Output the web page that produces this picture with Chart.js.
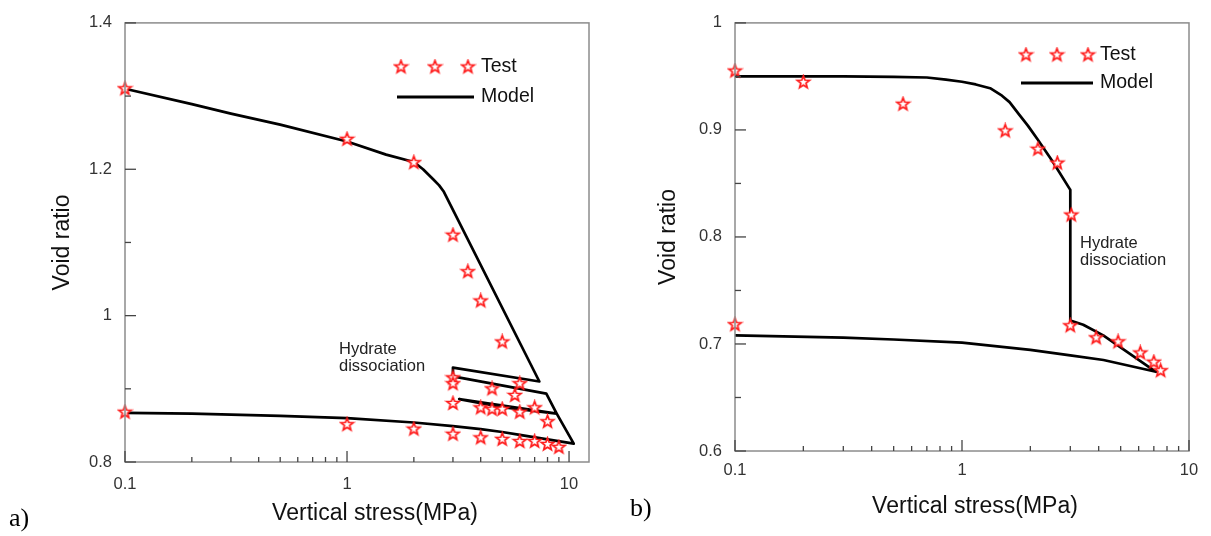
<!DOCTYPE html>
<html>
<head>
<meta charset="utf-8">
<script src="https://cdn.jsdelivr.net/npm/chart.js@4.4.1/dist/chart.umd.min.js"></script>
<style>
  html, body { margin: 0; padding: 0; background: #fff; }
  #wrap { position: relative; width: 1211px; height: 536px; overflow: hidden; }
  canvas { position: absolute; top: 0; }
  #chartA { left: 0; }
  #chartB { left: 605px; }
  .tag { position: absolute; font-family: "Liberation Serif", "Times New Roman", serif; font-size: 26px; color: #000; }
</style>
</head>
<body>
<div id="wrap">
  <canvas id="chartA" width="605" height="536"></canvas>
  <canvas id="chartB" width="606" height="536"></canvas>
  <div class="tag" style="left:9px; top:503px;">a)</div>
  <div class="tag" style="left:630px; top:493px;">b)</div>
</div>
<script>
// ---- panel a) ----
const aTestX = [0.1, 1, 2, 3, 3.5, 4, 5, 6, 3, 3, 4.5, 5.7, 3, 4, 4.5, 5, 6, 7, 8, 0.1, 1, 2, 3, 4, 5, 6, 7, 8, 9];
const aTestY = [1.310, 1.241, 1.209, 1.110, 1.060, 1.020, 0.964, 0.907, 0.915, 0.907, 0.900, 0.891, 0.880, 0.874, 0.872, 0.872, 0.868, 0.874, 0.855, 0.868, 0.851, 0.845, 0.838, 0.833, 0.831, 0.828, 0.828, 0.824, 0.820];
const aModelX = [0.1, 0.2, 0.3, 0.5, 1, 1.5, 2, 2.2, 2.45, 2.6, 2.72, 7.35, 3.0, 3.0, 7.9, 8.8, 3.2, 5, 8.8, 10.5, 8, 6, 5, 4, 3, 2, 1, 0.5, 0.2, 0.1];
const aModelY = [1.310, 1.289, 1.276, 1.261, 1.238, 1.220, 1.210, 1.200, 1.186, 1.178, 1.170, 0.910, 0.929, 0.917, 0.8935, 0.866, 0.886, 0.875, 0.866, 0.825, 0.831, 0.837, 0.841, 0.845, 0.849, 0.854, 0.860, 0.863, 0.866, 0.867];
const aYMajor = [0.8, 1.0, 1.2, 1.4];
const aYMinor = [0.9, 1.1, 1.3];

// ---- panel b) ----
const bTestX = [0.1, 0.2, 0.55, 1.55, 2.16, 2.63, 3.03, 3.0, 3.9, 4.87, 6.1, 7.0, 7.5, 0.1];
const bTestY = [0.955, 0.9445, 0.924, 0.899, 0.882, 0.869, 0.8205, 0.717, 0.7057, 0.702, 0.6916, 0.683, 0.675, 0.718];
const bModelX = [0.1, 0.3, 0.5, 0.7, 0.85, 1.0, 1.15, 1.33, 1.5, 1.62, 1.79, 1.95, 2.14, 2.5, 3.0, 3.0, 3.42, 4.19, 7.15, 4.2, 3.0, 2.0, 1.0, 0.5, 0.3, 0.1];
const bModelY = [0.950, 0.950, 0.9495, 0.949, 0.947, 0.945, 0.9425, 0.939, 0.932, 0.926, 0.914, 0.904, 0.892, 0.871, 0.844, 0.722, 0.718, 0.708, 0.674, 0.685, 0.6894, 0.6945, 0.7013, 0.7042, 0.706, 0.708];
const bYMajor = [0.6, 0.7, 0.8, 0.9, 1.0];
const bYMinor = [0.65, 0.75, 0.85, 0.95];

// shared log axis ticks
const xMajor = [0.1, 1, 10];
const xMinor = [0.2, 0.3, 0.4, 0.5, 0.6, 0.7, 0.8, 0.9, 2, 3, 4, 5, 6, 7, 8, 9];

Chart.defaults.font.family = '"Liberation Sans", Arial, sans-serif';

// hollow red star marker
function makeStar(r) {
    const c = document.createElement('canvas');
    const s = Math.ceil(r * 2 + 4);
    c.width = s; c.height = s;
    const g = c.getContext('2d');
    g.beginPath();
    for (let i = 0; i < 10; i++) {
        const rad = i % 2 ? r * 0.42 : r;
        const ang = -Math.PI / 2 + i * Math.PI / 5;
        g.lineTo(s / 2 + rad * Math.cos(ang), s / 2 + rad * Math.sin(ang));
    }
    g.closePath();
    g.fillStyle = '#fff';
    g.fill();
    g.strokeStyle = '#ff1a1a';
    g.lineWidth = 1.7;
    g.stroke();
    return c;
}
const star = makeStar(6.5);

function pts(xs, ys) {
    return xs.map((x, i) => ({ x: x, y: ys[i] }));
}

// frame, inward ticks, legend, note and x title
const decor = {
    id: 'decor',
    afterDraw(chart, args, o) {
        const { ctx, chartArea: a, scales: { x, y } } = chart;
        ctx.save();
        ctx.strokeStyle = '#8c8c8c';
        ctx.lineWidth = 1.5;
        ctx.strokeRect(a.left, a.top, a.right - a.left, a.bottom - a.top);

        ctx.strokeStyle = '#444';
        ctx.lineWidth = 1.3;
        const seg = (x1, y1, x2, y2) => { ctx.beginPath(); ctx.moveTo(x1, y1); ctx.lineTo(x2, y2); ctx.stroke(); };
        xMajor.forEach(v => { if (v <= x.max) { const p = x.getPixelForValue(v); seg(p, a.bottom, p, a.bottom - 11); } });
        xMinor.forEach(v => { const p = x.getPixelForValue(v); seg(p, a.bottom, p, a.bottom - 5); });
        o.yMajor.forEach(v => { const p = y.getPixelForValue(v); seg(a.left, p, a.left + 11, p); });
        o.yMinor.forEach(v => { const p = y.getPixelForValue(v); seg(a.left, p, a.left + 6, p); });

        // legend
        const L = o.legend;
        L.stars.forEach(sx => ctx.drawImage(star, sx - star.width / 2, L.y1 - star.height / 2));
        ctx.strokeStyle = '#000';
        ctx.lineWidth = 2.8;
        seg(L.line[0], L.y2, L.line[1], L.y2);
        ctx.fillStyle = '#111';
        ctx.textBaseline = 'middle';
        ctx.textAlign = 'left';
        ctx.font = '19.5px "Liberation Sans", Arial, sans-serif';
        ctx.fillText('Test', L.tx, L.y1);
        ctx.fillText('Model', L.tx, L.y2);

        // annotation
        ctx.fillStyle = '#222';
        ctx.font = '16.5px "Liberation Sans", Arial, sans-serif';
        ctx.fillText('Hydrate', o.note[0], o.note[1]);
        ctx.fillText('dissociation', o.note[0], o.note[1] + 17);

        // x title
        ctx.fillStyle = '#111';
        ctx.textAlign = 'center';
        ctx.font = '23px "Liberation Sans", Arial, sans-serif';
        ctx.fillText('Vertical stress(MPa)', o.xTitle[0], o.xTitle[1]);
        ctx.restore();
    }
};

function drawPanel(id, p) {
    new Chart(document.getElementById(id), {
        type: 'scatter',
        data: {
            datasets: [{
                label: 'Test',
                data: pts(p.testX, p.testY),
                pointStyle: star,
                pointRadius: 6,
                clip: false
            }, {
                label: 'Model',
                data: pts(p.modelX, p.modelY),
                showLine: true,
                pointRadius: 0,
                borderColor: '#000',
                borderWidth: 2.7,
                borderJoinStyle: 'round',
                clip: false
            }]
        },
        options: {
            responsive: false,
            animation: false,
            events: [],
            layout: { padding: p.pad },
            plugins: {
                legend: { display: false },
                tooltip: { enabled: false },
                decor: p.decor
            },
            scales: {
                x: {
                    type: 'logarithmic',
                    min: 0.1,
                    max: p.xMax,
                    afterFit: s => { s.height = p.xH; },
                    grid: { display: false, drawTicks: false },
                    border: { display: false },
                    ticks: {
                        autoSkip: false,
                        maxRotation: 0,
                        padding: p.xPad,
                        color: '#333',
                        font: { size: 16.5 },
                        callback: v => {
                            const e = Math.log10(v);
                            return Math.abs(e - Math.round(e)) < 1e-6 ? String(Number(v.toPrecision(3))) : '';
                        }
                    }
                },
                y: {
                    min: p.yMin,
                    max: p.yMax,
                    afterFit: s => { s.width = p.yW; },
                    grid: { display: false, drawTicks: false },
                    border: { display: false },
                    ticks: {
                        stepSize: p.yStep,
                        padding: 13,
                        color: '#333',
                        font: { size: 16.5 },
                        callback: v => String(Number(v.toFixed(2)))
                    },
                    title: {
                        display: true,
                        text: 'Void ratio',
                        color: '#111',
                        font: { size: 23 },
                        padding: { top: p.yTitlePad, bottom: 0 }
                    }
                }
            }
        },
        plugins: [decor]
    });
}

drawPanel('chartA', {
    testX: aTestX, testY: aTestY, modelX: aModelX, modelY: aModelY,
    xMax: 12.3, yMin: 0.8, yMax: 1.4, yStep: 0.2,
    pad: { left: 48, top: 16, right: 16, bottom: 0 },
    yW: 77, xH: 74, xPad: 13, yTitlePad: 1,
    decor: {
        yMajor: aYMajor, yMinor: aYMinor,
        legend: { stars: [401, 435, 468], y1: 67, y2: 97, line: [397, 474], tx: 481 },
        note: [339, 349],
        xTitle: [375, 514]
    }
});

drawPanel('chartB', {
    testX: bTestX, testY: bTestY, modelX: bModelX, modelY: bModelY,
    xMax: 10, yMin: 0.6, yMax: 1.0, yStep: 0.1,
    pad: { left: 46, top: 13, right: 22, bottom: 0 },
    yW: 84, xH: 85, xPad: 10, yTitlePad: 4,
    decor: {
        yMajor: bYMajor, yMinor: bYMinor,
        legend: { stars: [421, 452, 483], y1: 55, y2: 83, line: [416, 488], tx: 495 },
        note: [475, 243],
        xTitle: [370, 507]
    }
});
</script>
</body>
</html>
